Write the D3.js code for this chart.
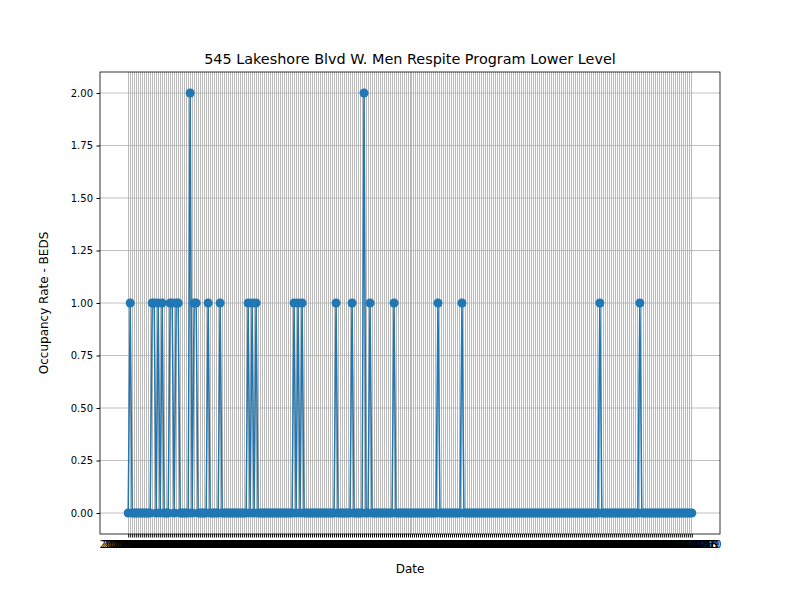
<!DOCTYPE html>
<html>
<head>
<meta charset="utf-8">
<script src="https://cdn.jsdelivr.net/npm/d3@7"></script>
<style>
body { margin: 0; background: #fff; }
text { font-family: "DejaVu Sans", sans-serif; }
</style>
</head>
<body>
<div class="chart"></div>
<script>
// dates: one per day, read as ~283 categories
const startDate = new Date(2021, 0, 1);
const N = 283;
const dates = d3.range(N).map(i => d3.timeFormat("%Y-%m-%d")(d3.timeDay.offset(startDate, i)));

// days with occupied beds (index -> beds)
const ones = [1, 12, 13, 15, 17, 21, 22, 24, 25, 33, 34, 40, 46, 60, 62, 64, 83, 85, 87, 104, 112, 121, 133, 155, 167, 236, 256];
const twos = [31, 118];
const beds = dates.map((d, i) => twos.includes(i) ? 2 : ones.includes(i) ? 1 : 0);
const yTicks = [0, 0.25, 0.5, 0.75, 1, 1.25, 1.5, 1.75, 2];

const margin = {top: 72, right: 80, bottom: 66, left: 100};
const width = 800 - margin.left - margin.right,
      height = 600 - margin.top - margin.bottom;

const svg = d3.select(".chart").append("svg")
    .attr("width", 800).attr("height", 600)
    .append("g")
    .attr("transform", `translate(${margin.left},${margin.top})`);

const x = d3.scalePoint().domain(dates).range([0, width]).padding(0.05 * (N - 1));
const y = d3.scaleLinear().domain([-0.1, 2.1]).range([height, 0]);

// grid
svg.append("g").attr("shape-rendering", "crispEdges")
    .selectAll("line").data(dates).join("line")
    .attr("x1", d => x(d)).attr("x2", d => x(d))
    .attr("y1", 0).attr("y2", height)
    .attr("stroke", "#a8a8a8").attr("stroke-width", 0.8);
svg.append("g").selectAll("line").data(yTicks).join("line")
    .attr("x1", 0).attr("x2", width)
    .attr("y1", d => y(d)).attr("y2", d => y(d))
    .attr("stroke", "#b0b0b0").attr("stroke-width", 0.8);

// axes
svg.append("g")
    .attr("transform", `translate(0,${height})`)
    .call(d3.axisBottom(x).tickSize(3.5).tickPadding(3.5))
    .call(g => g.select(".domain").remove())
    .call(g => g.selectAll("text").attr("font-size", 10).attr("fill", "#000"));
svg.append("g")
    .call(d3.axisLeft(y).tickValues(yTicks).tickFormat(d3.format(".2f")).tickSize(3.5).tickPadding(3.5))
    .call(g => g.select(".domain").remove())
    .call(g => g.selectAll("text").attr("font-size", 10).attr("fill", "#000"));

svg.append("rect").attr("width", width).attr("height", height)
    .attr("fill", "none").attr("stroke", "#000").attr("stroke-width", 0.8);

// line + markers
svg.append("path").datum(beds)
    .attr("fill", "none").attr("stroke", "#1f77b4").attr("stroke-width", 1.5)
    .attr("stroke-linejoin", "round")
    .attr("d", d3.line().x((d, i) => x(dates[i])).y(d => y(d)));
svg.append("g").selectAll("circle").data(beds).join("circle")
    .attr("cx", (d, i) => x(dates[i])).attr("cy", d => y(d))
    .attr("r", 4.5).attr("fill", "#1f77b4");

// titles
svg.append("text").attr("x", width / 2).attr("y", -8).attr("text-anchor", "middle")
    .attr("font-size", 14.4).text("545 Lakeshore Blvd W. Men Respite Program Lower Level");
svg.append("text").attr("x", width / 2).attr("y", height + 39).attr("text-anchor", "middle")
    .attr("font-size", 12).text("Date");
svg.append("text").attr("transform", `translate(-52,${height / 2}) rotate(-90)`)
    .attr("text-anchor", "middle").attr("font-size", 12).text("Occupancy Rate - BEDS");
</script>
</body>
</html>
